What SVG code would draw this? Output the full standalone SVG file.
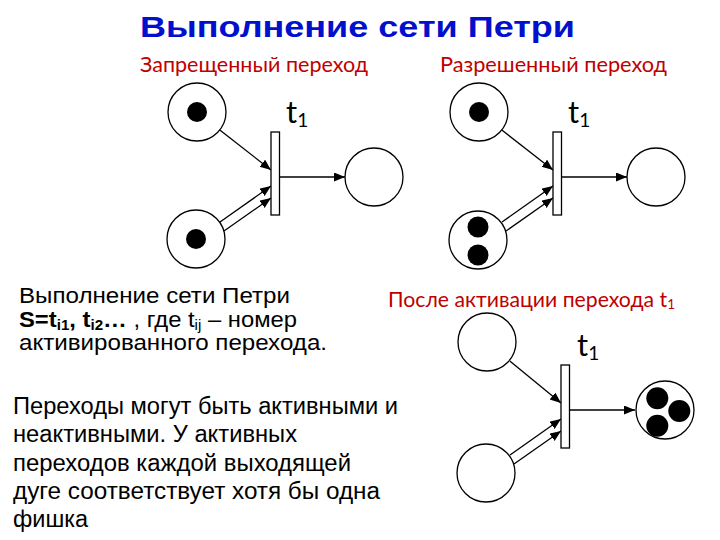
<svg xmlns="http://www.w3.org/2000/svg" width="720" height="540" viewBox="0 0 720 540">
<style>
.place{fill:#fff;stroke:#000;stroke-width:1.3}
.tok{fill:#000}
.tr{fill:#fff;stroke:#000;stroke-width:1.3}
.arc{stroke:#000;stroke-width:1.3;fill:none;marker-end:url(#ah)}
.lbl{font-family:Lato,"Open Sans",sans-serif;fill:#000}
.sub{font-family:Lato,"Open Sans",sans-serif;font-size:22px;fill:#C00000}
.para{font-family:"Liberation Sans",Arial,sans-serif;fill:#000}
.title{font-family:"Liberation Sans",Arial,sans-serif;font-weight:bold;font-size:30px;fill:#0010CC}
</style>
<defs>
<marker id="ah" markerUnits="userSpaceOnUse" markerWidth="12" markerHeight="10" refX="11" refY="4.5" orient="auto">
<path d="M0,0 L11,4.5 L0,9 Z" fill="#000"/>
</marker>
</defs>
<rect width="720" height="540" fill="#fff"/>
<text id="title" class="title" x="140" y="37" textLength="435" lengthAdjust="spacingAndGlyphs">Выполнение сети Петри</text>
<text class="sub" x="140" y="72" textLength="228" lengthAdjust="spacingAndGlyphs">Запрещенный переход</text>
<text class="sub" x="440" y="72" textLength="227" lengthAdjust="spacingAndGlyphs">Разрешенный переход</text>
<text class="sub" x="388" y="307" textLength="287" lengthAdjust="spacingAndGlyphs">После активации перехода t<tspan font-size="14" dy="2">1</tspan></text>

<!-- Diagram 1 -->
<g id="d1">
<g id="d1-connectors">
<line class="arc" x1="219.8" y1="130" x2="271" y2="170"/>
<line class="arc" x1="220" y1="222" x2="271" y2="186"/>
<line class="arc" x1="224" y1="231" x2="271" y2="198"/>
<line class="arc" x1="280" y1="177" x2="345" y2="177"/>
</g>
<g id="d1-p1"><circle class="place" cx="197" cy="112" r="29"/><circle class="tok" cx="197" cy="112" r="10"/></g>
<g id="d1-p2"><circle class="place" cx="196" cy="239" r="29"/><circle class="tok" cx="196" cy="239" r="10"/></g>
<g id="d1-t1"><rect class="tr" x="271" y="132" width="8.5" height="83"/><text class="lbl" x="286" y="123" font-size="31">t<tspan font-size="19" dy="4">1</tspan></text></g>
<g id="d1-p3"><circle class="place" cx="374" cy="177" r="29"/></g>
</g>

<!-- Diagram 2 -->
<g id="d2" transform="translate(282,0)">
<g id="d2-connectors">
<line class="arc" x1="219.8" y1="130" x2="271" y2="170"/>
<line class="arc" x1="220" y1="222" x2="271" y2="186"/>
<line class="arc" x1="224" y1="231" x2="271" y2="198"/>
<line class="arc" x1="280" y1="177" x2="345" y2="177"/>
</g>
<g id="d2-p1"><circle class="place" cx="197" cy="112" r="29"/><circle class="tok" cx="197" cy="112" r="10"/></g>
<g id="d2-p2"><circle class="place" cx="196" cy="240" r="29"/><circle class="tok" cx="196" cy="227" r="10.5"/><circle class="tok" cx="196" cy="255" r="10.5"/></g>
<g id="d2-t1"><rect class="tr" x="271" y="132" width="8.5" height="83"/><text class="lbl" x="286" y="123" font-size="31">t<tspan font-size="19" dy="4">1</tspan></text></g>
<g id="d2-p3"><circle class="place" cx="374" cy="177" r="29"/></g>
</g>

<!-- Diagram 3 -->
<g id="d3" transform="translate(290,233)">
<g id="d3-connectors">
<line class="arc" x1="219.8" y1="128" x2="271" y2="170"/>
<line class="arc" x1="220" y1="222" x2="271" y2="186"/>
<line class="arc" x1="224" y1="231" x2="271" y2="198"/>
<line class="arc" x1="280" y1="177" x2="345" y2="177"/>
</g>
<g id="d3-p1"><circle class="place" cx="197" cy="109" r="29"/></g>
<g id="d3-p2"><circle class="place" cx="196" cy="240" r="29"/></g>
<g id="d3-t1"><rect class="tr" x="271" y="132" width="8.5" height="83"/><text class="lbl" x="287" y="123" font-size="31">t<tspan font-size="19" dy="4">1</tspan></text></g>
<g id="d3-p3"><circle class="place" cx="375" cy="177" r="29"/><circle class="tok" cx="367.3" cy="165.3" r="11"/><circle class="tok" cx="389.3" cy="178" r="11"/><circle class="tok" cx="367.3" cy="192.7" r="11"/></g>
</g>

<!-- Text paragraphs -->
<g id="para1" class="para" font-size="22">
<text x="19" y="303" textLength="271" lengthAdjust="spacingAndGlyphs">Выполнение сети Петри</text>
<text x="19" y="326.5" textLength="278" lengthAdjust="spacingAndGlyphs"><tspan font-weight="bold">S=t</tspan><tspan font-weight="bold" font-size="14" dy="3">i1</tspan><tspan font-weight="bold" dy="-3">, t</tspan><tspan font-weight="bold" font-size="14" dy="3">i2</tspan><tspan font-weight="bold" dy="-3">…</tspan> , где t<tspan font-size="14" dy="3">ij</tspan><tspan dy="-3"> – номер</tspan></text>
<text x="19" y="350" textLength="308" lengthAdjust="spacingAndGlyphs">активированного перехода.</text>
</g>
<g id="para2" class="para" font-size="23">
<text x="13" y="414" textLength="385" lengthAdjust="spacingAndGlyphs">Переходы могут быть активными и</text>
<text x="13" y="442" textLength="284" lengthAdjust="spacingAndGlyphs">неактивными. У активных</text>
<text x="13" y="470.5" textLength="338" lengthAdjust="spacingAndGlyphs">переходов каждой выходящей</text>
<text x="13" y="498.5" textLength="367" lengthAdjust="spacingAndGlyphs">дуге соответствует хотя бы одна</text>
<text x="13" y="526.5" textLength="75" lengthAdjust="spacingAndGlyphs">фишка</text>
</g>
</svg>
